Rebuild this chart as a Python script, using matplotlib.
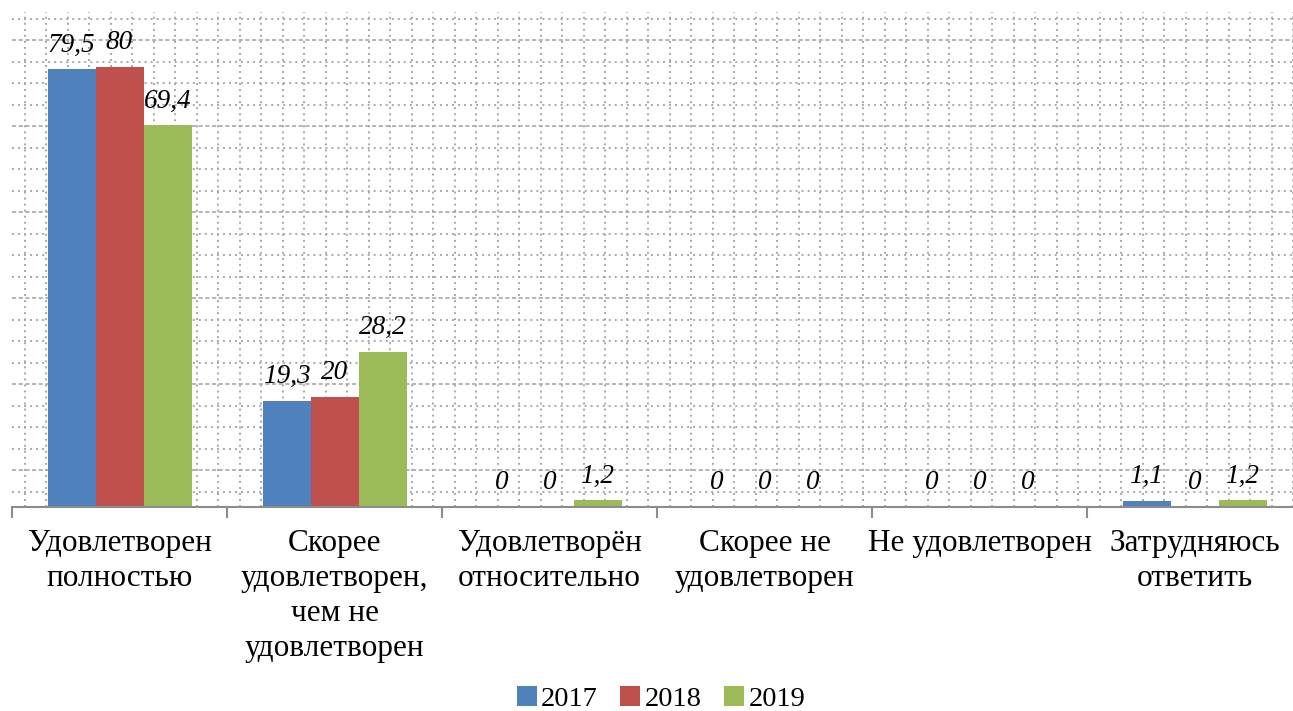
import numpy as np
import matplotlib
matplotlib.use("Agg")
import matplotlib.pyplot as plt

plt.rcParams['font.family'] = ['Liberation Serif', 'DejaVu Serif']

categories = ["Удовлетворен\nполностью",
              "Скорее\nудовлетворен,\nчем не\nудовлетворен",
              "Удовлетворён\nотносительно",
              "Скорее не\nудовлетворен",
              "Не удовлетворен",
              "Затрудняюсь\nответить"]
years = ["2017", "2018", "2019"]
values_2017 = [79.5, 19.3, 0, 0, 0, 1.1]
values_2018 = [80, 20, 0, 0, 0, 0]
values_2019 = [69.4, 28.2, 1.2, 0, 0, 1.2]
colors = ["#4F81BD", "#C0504D", "#9BBB59"]


def fmt(v):
    """Формат числа с запятой"""
    s = f"{v:g}"
    return s.replace(".", ",")


fig = plt.figure(figsize=(12.93, 7.11), dpi=100)
# ось немного выходит за правый край, как на исходнике
ax = fig.add_axes([12 / 1293, (711 - 506.7) / 711, 1290 / 1293, 495 / 711])
ax.set_xlim(-0.5, len(categories) - 0.5)
ax.set_ylim(0, 90)

# фон "миллиметровка"
grid_color = "#a8a8a8"
dots = (0, (1, 2.1))
xs = np.arange(-0.5 + 0.06, len(categories) - 0.5, 0.1)
for x in xs:
    ax.axvline(x, color=grid_color, lw=1.4, ls=dots, zorder=0)
step = 3.907
k = 0
y = 2.73
while y < 90:
    if k % 4 == 1:
        ax.axhline(y, color=grid_color, lw=1.2, ls=(0, (2.5, 1.5)), zorder=0)
    else:
        ax.axhline(y, color=grid_color, lw=1.4, ls=dots, zorder=0)
    k += 1
    y = 2.73 + k * step

# столбцы
x = np.arange(len(categories))
w = 48 / 215
series = [values_2017, values_2018, values_2019]
for i, (vals, year, c) in enumerate(zip(series, years, colors)):
    pos = x + (i - 1) * w
    ax.bar(pos, vals, width=w, color=c, label=year, zorder=3)
    for px, v in zip(pos, vals):
        ax.annotate(fmt(v), (px, v), xytext=(0, 12.5), textcoords="offset points",
                    ha="center", va="baseline", fontsize=19.5, style="italic",
                    zorder=4)

for s in ["top", "left", "right"]:
    ax.spines[s].set_visible(False)
ax.spines["bottom"].set_color("#8c8c8c")
ax.spines["bottom"].set_linewidth(1.5)
ax.spines["bottom"].set_zorder(5)
ax.set_yticks([])

ax.set_xticks(np.arange(-0.5, len(categories)), [""] * (len(categories) + 1))
ax.tick_params(axis="x", which="major", length=8, width=1.5, color="#8c8c8c",
               direction="out")
ax.set_xticks(x, categories, minor=True)
ax.tick_params(axis="x", which="minor", length=0, pad=16, labelsize=22.5)
for lab in ax.get_xticklabels(minor=True):
    lab.set_linespacing(1.27)
    lab.set_va("top")

fig.legend(loc="center", bbox_to_anchor=(661 / 1293, 1 - 699 / 711), ncol=3,
           frameon=False, fontsize=20.5, handlelength=0.7, handleheight=0.7,
           handletextpad=0.15, columnspacing=0.8)

fig.savefig("out.png", dpi=100)
